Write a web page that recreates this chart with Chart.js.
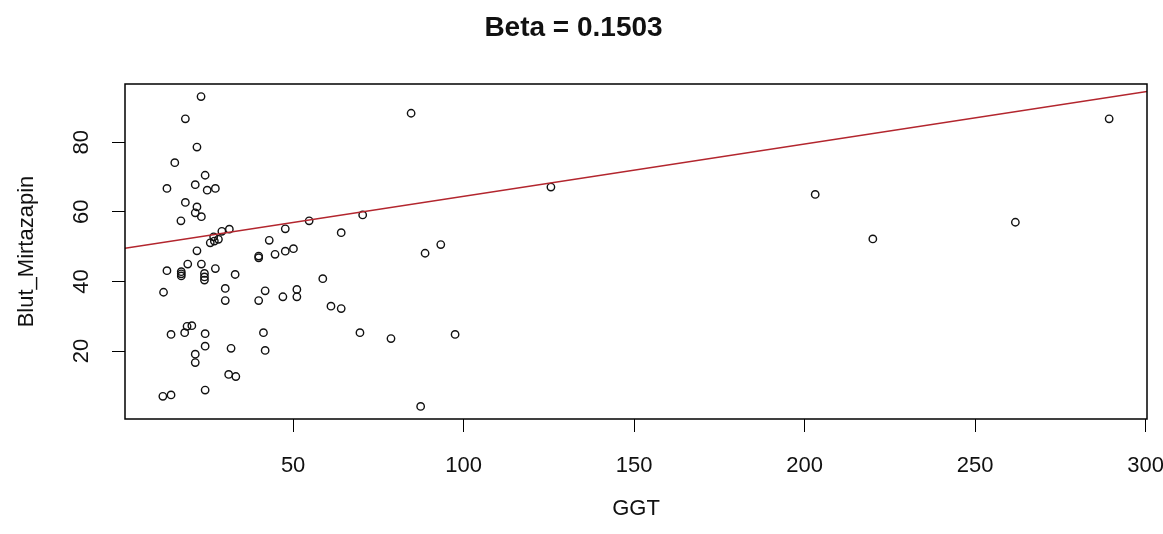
<!DOCTYPE html>
<html>
<head>
<meta charset="utf-8">
<title>Beta = 0.1503</title>
<script src="https://cdn.jsdelivr.net/npm/chart.js@4.4.1/dist/chart.umd.min.js"></script>
<style>
  body { margin: 0; background: #fff; }
  #chart { display: block; }
</style>
</head>
<body>
<canvas id="chart" width="1163" height="534"></canvas>
<script>
// werte
var ggt = [23.0, 18.4, 21.8, 15.3, 24.2, 13.0, 21.3, 24.8, 27.2, 18.4, 21.8, 21.3, 23.1, 17.1,
  29.1, 31.3, 26.7, 28.1, 25.7, 26.9, 47.7, 54.7, 64.1, 43.0, 21.8, 39.9, 39.9, 44.7, 47.7, 50.1,
  13.0, 17.2, 17.2, 17.2, 19.1, 23.1, 24.0, 24.0, 24.0, 27.2, 33.0, 12.0, 30.1, 30.1, 41.8, 39.9,
  47.0, 51.1, 51.1, 58.7, 61.1, 64.1, 69.6, 78.7, 97.5, 87.4, 84.6, 70.4, 88.7, 93.3, 125.6,
  18.9, 20.3, 18.2, 14.2, 24.2, 41.3, 24.2, 31.8, 41.8, 21.3, 21.3, 31.1, 33.2, 11.8, 14.2, 24.2,
  203.1, 220.0, 261.8, 289.3];
var blut = [93.1, 86.7, 78.6, 74.1, 70.5, 66.7, 67.8, 66.2, 66.7, 62.7, 61.4, 59.7, 58.6, 57.4,
  54.4, 55.0, 52.8, 52.1, 51.1, 51.6, 55.1, 57.4, 54.0, 51.8, 48.8, 47.3, 46.8, 47.8, 48.7, 49.4,
  43.1, 42.8, 41.6, 42.2, 45.0, 45.0, 42.3, 41.3, 40.4, 43.7, 42.0, 36.9, 38.0, 34.5, 37.3, 34.5,
  35.6, 37.7, 35.6, 40.8, 32.9, 32.2, 25.3, 23.6, 24.8, 4.1, 88.3, 59.1, 48.1, 50.6, 67.1,
  27.1, 27.3, 25.3, 24.8, 25.0, 25.3, 21.4, 20.8, 20.2, 19.1, 16.7, 13.3, 12.7, 7.0, 7.4, 8.8,
  65.0, 52.2, 57.0, 86.7];

// regressionsgerade
var beta = 0.1503;
var intercept = 49.4;

var xTicks = [50, 100, 150, 200, 250, 300];
var yTicks = [20, 40, 60, 80];
var xRange = [0.7, 300.4];
var yRange = [0.5, 96.7];

var punkte = ggt.map(function (x, i) {
    return { x: x, y: blut[i] };
});

var linie = xRange.map(function (x) {
    return { x: x, y: intercept + beta * x };
});

var fontName = "'Liberation Sans', Arial, sans-serif";

// rahmen um den plotbereich wie bei R
var boxPlugin = {
    id: "box",
    afterDatasetsDraw: function (chart) {
        var a = chart.chartArea;
        var ctx = chart.ctx;
        ctx.save();
        ctx.strokeStyle = "#000";
        ctx.lineWidth = 1.5;
        ctx.strokeRect(a.left, a.top, a.right - a.left, a.bottom - a.top);
        ctx.restore();
    }
};

var ctx = document.getElementById("chart").getContext("2d");
new Chart(ctx, {
    type: "scatter",
    data: {
        datasets: [
            {
                label: "Blut_Mirtazapin",
                data: punkte,
                pointStyle: "circle",
                pointRadius: 3.7,
                pointBorderWidth: 1.4,
                borderColor: "#111",
                backgroundColor: "rgba(0,0,0,0)",
                order: 2
            },
            {
                type: "line",
                label: "fit",
                data: linie,
                borderColor: "#b3262e",
                borderWidth: 1.5,
                pointRadius: 0,
                fill: false,
                order: 1
            }
        ]
    },
    options: {
        responsive: false,
        animation: false,
        layout: { padding: { left: 0, right: 16, top: 0, bottom: 0 } },
        plugins: {
            legend: { display: false },
            tooltip: { enabled: false },
            title: {
                display: true,
                text: "Beta = 0.1503",
                color: "#111",
                font: { family: fontName, size: 28, weight: "bold" },
                padding: { top: 11, bottom: 39.4 }
            }
        },
        scales: {
            x: {
                type: "linear",
                min: xRange[0],
                max: xRange[1],
                afterBuildTicks: function (scale) {
                    scale.ticks = xTicks.map(function (v) { return { value: v }; });
                },
                afterFit: function (scale) {
                    scale.height = 115;
                    scale.paddingLeft = 0;
                    scale.paddingRight = 0;
                },
                grid: { drawOnChartArea: false, drawTicks: true, tickLength: 13, color: "#000", lineWidth: 1 },
                border: { display: false },
                ticks: {
                    color: "#111",
                    font: { family: fontName, size: 22 },
                    padding: 21,
                    maxRotation: 0,
                    autoSkip: false
                },
                title: {
                    display: true,
                    text: "GGT",
                    color: "#111",
                    font: { family: fontName, size: 22 },
                    padding: { top: 0, bottom: 12 }
                }
            },
            y: {
                type: "linear",
                min: yRange[0],
                max: yRange[1],
                afterBuildTicks: function (scale) {
                    scale.ticks = yTicks.map(function (v) { return { value: v }; });
                },
                afterFit: function (scale) {
                    scale.width = 125;
                    scale.paddingTop = 0;
                    scale.paddingBottom = 0;
                },
                grid: { drawOnChartArea: false, drawTicks: true, tickLength: 13, color: "#000", lineWidth: 1 },
                border: { display: false },
                ticks: {
                    color: "#111",
                    font: { family: fontName, size: 22 },
                    padding: 18,
                    minRotation: 90,
                    maxRotation: 90,
                    crossAlign: "center",
                    autoSkip: false
                },
                title: {
                    display: true,
                    text: "Blut_Mirtazapin",
                    color: "#111",
                    font: { family: fontName, size: 22 },
                    padding: { top: 14, bottom: 0 }
                }
            }
        }
    },
    plugins: [boxPlugin]
});
</script>
</body>
</html>
